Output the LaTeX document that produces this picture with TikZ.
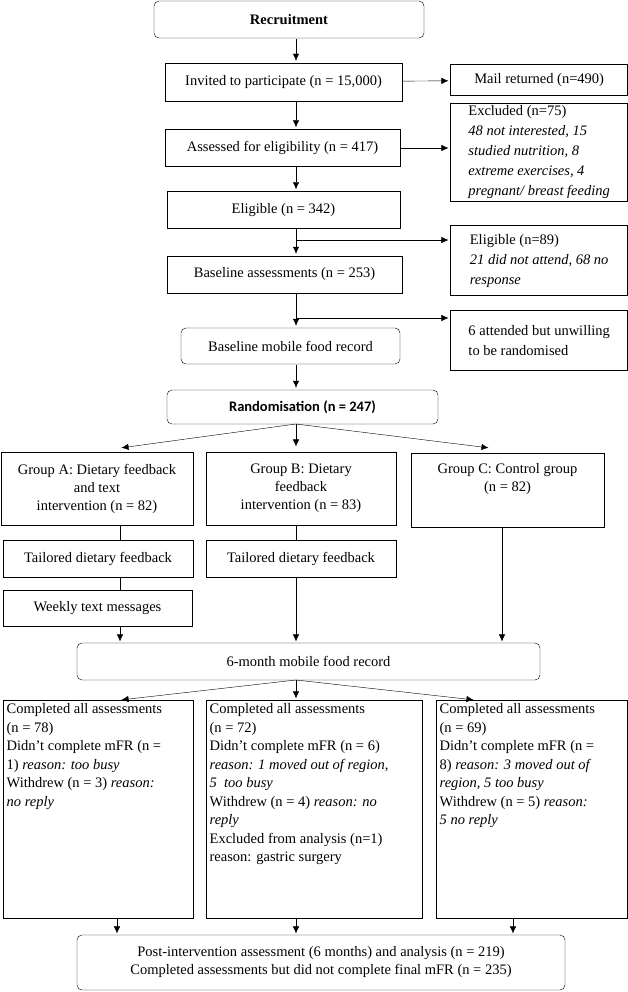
\documentclass[tikz,border=0pt]{standalone}
\usepackage{fontspec}
\setmainfont{Liberation Serif}
\newfontfamily\tnr{Liberation Serif}
\newfontfamily\calfont{Carlito}
\usetikzlibrary{arrows.meta}
\begin{document}
\tnr\fontsize{14.5}{18}\selectfont
\begin{tikzpicture}[x=1pt,y=-1pt]
\tikzset{ >={Latex[length=9pt,width=8pt]}, line width=1.3pt,
  box/.style={draw, inner sep=2pt, align=center, font=\tnr\fontsize{14.5}{18}\selectfont},
  rbox/.style={box, rounded corners=5pt},
  side/.style={draw, inner sep=4pt, align=left, anchor=north west, font=\tnr\fontsize{14.5}{20}\selectfont},
  tall/.style={draw, inner sep=3pt, anchor=north west, font=\tnr\fontsize{14.5}{18.5}\selectfont},
}
\useasboundingbox (0,0) rectangle (628,992);
\coordinate (cx) at (296,0);

% main column
\node [rbox, minimum width=270, minimum height=37] (R) at (289,19.5) {\textbf{Recruitment}};
\node [box, minimum width=237, minimum height=38] (I) at (283.5,82) {Invited to participate (n = 15,000)};
\node [box, minimum width=235, minimum height=37] (A) at (282.5,148) {Assessed for eligibility (n = 417)};
\node [box, minimum width=233, minimum height=37] (E) at (283.5,210) {Eligible (n = 342)};
\node [box, minimum width=235, minimum height=37] (B) at (284.5,274.5) {Baseline assessments (n = 253)};
\node [rbox, minimum width=219, minimum height=36] (M) at (290.5,346) {Baseline mobile food record};
\node [rbox, minimum width=271, minimum height=34] (Rd) at (302.5,407) {\calfont\bfseries Randomisation (n = 247)};

% side boxes
\node [side, minimum width=177, minimum height=31] (Mr) at (450,64) {Mail returned (n=490)};
\node [side, minimum width=177, minimum height=97, inner sep=2pt] (Ex) at (450,103) {Excluded (n=75)\\\itshape 48 not interested, 15\\\itshape studied nutrition, 8\\\itshape extreme exercises, 4\\\itshape pregnant/ breast feeding};
\node [side, minimum width=177, minimum height=70] (E2) at (450,225) {Eligible (n=89)\\\itshape 21 did not attend, 68 no\\\itshape response};
\node [side, minimum width=177, minimum height=60] (Un) at (450,310) {6 attended but unwilling\\to be randomised};

% groups
\node [box, minimum width=192, minimum height=73] (GA) at (97,488.5) {Group A: Dietary feedback\\and text\\intervention (n = 82)};
\node [box, minimum width=190, minimum height=73] (GB) at (301,488.5) {Group B: Dietary\\feedback\\intervention (n = 83)};
\node [box, minimum width=193, minimum height=74, text depth=26pt] (GC) at (507.5,490) {Group C: Control group\\(n = 82)};
\node [box, minimum width=190, minimum height=37] (TA) at (98,558.5) {Tailored dietary feedback};
\node [box, minimum width=190, minimum height=37] (TB) at (301,558.5) {Tailored dietary feedback};
\node [box, minimum width=189, minimum height=36] (W) at (97.5,608) {Weekly text messages};
\node [rbox, minimum width=463, minimum height=37] (S) at (308.5,661.5) {6-month mobile food record};

% follow-up
\node [tall] (FA) at (3,700) {\parbox[c][212pt][t]{184pt}{Completed all assessments\\(n = 78)\\Didn’t complete mFR (n =\\1) \textit{reason: too busy}\\Withdrew (n = 3) \textit{reason:}\\\textit{no reply}}};
\node [tall] (FB) at (206,700) {\parbox[c][212pt][t]{210pt}{Completed all assessments\\(n = 72)\\Didn’t complete mFR (n = 6)\\\textit{reason: 1 moved out of region,}\\\textit{5\ \ too busy}\\Withdrew (n = 4) \textit{reason: no}\\\textit{reply}\\Excluded from analysis (n=1)\\reason: gastric surgery}};
\node [tall] (FC) at (436,700) {\parbox[c][212pt][t]{185pt}{Completed all assessments\\(n = 69)\\Didn’t complete mFR (n =\\8) \textit{reason: 3 moved out of}\\\textit{region, 5 too busy}\\Withdrew (n = 5) \textit{reason:}\\\textit{5 no reply}}};
\node [rbox, minimum width=488, minimum height=55] (P) at (321,962.5) {Post-intervention assessment (6 months) and analysis (n = 219)\\Completed assessments but did not complete final mFR (n = 235)};

% connectors
\draw [->] (R.south -| cx) -- (I.north -| cx);
\draw [->] (I.south -| cx) -- (A.north -| cx);
\draw [->] (A.south -| cx) -- (E.north -| cx);
\draw [->] (E.south -| cx) -- (B.north -| cx);
\draw [->] (B.south -| cx) -- (M.north -| cx);
\draw [->] (M.south -| cx) -- (Rd.north -| cx);
\draw [->] (I) -- (Mr);
\draw [->] (A.east) -- (A.east -| Ex.west);
\coordinate (j1) at (296,240);
\coordinate (j2) at (296,318);
\draw [->] (j1) -- (j1 -| E2.west);
\draw [->] (j2) -- (j2 -| Un.west);

\coordinate (r0) at (296,424);
\draw [->] (r0) -- (120,448);
\draw [->] (r0) -- (296,448);
\draw [->] (r0) -- (490,448);
\draw (120,525) -- (120,540);
\draw (120,577) -- (120,590);
\draw (296,525) -- (296,540);
\draw [->] (W.south -| 120,0) -- (120,643);
\draw [->] (TB.south -| 296,0) -- (296,643);
\draw [->] (GC.south -| 502,0) -- (502,643);

\coordinate (s0) at (296,680);
\draw [->] (s0) -- (120,700);
\draw [->] (s0) -- (296,700);
\draw [->] (s0) -- (475,700);
\draw [->] (FA.south -| 117,0) -- (117,935);
\draw [->] (FB.south -| 296,0) -- (296,935);
\draw [->] (FC.south -| 513,0) -- (513,935);
\end{tikzpicture}
\end{document}
